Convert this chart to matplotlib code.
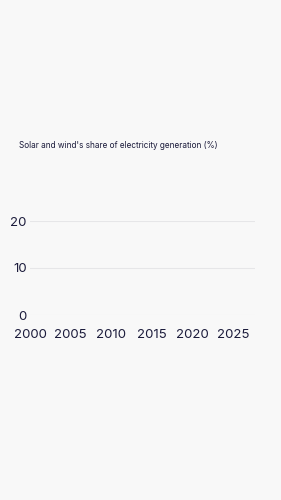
import matplotlib.pyplot as plt

# chart has axes only, no series drawn
years = [2000, 2005, 2010, 2015, 2020, 2025]
share_ticks = [0, 10, 20]
title = "Solar and wind's share of electricity generation (%)"

bg = "#f8f8f8"
ink = "#1c1c3c"

plt.rcParams['font.family'] = ['Inter', 'DejaVu Sans']

fig = plt.figure(figsize=(2.81, 5), dpi=100, facecolor=bg)
ax = fig.add_axes([30 / 281, 0.37, 225 / 281, 0.188], facecolor=bg)

ax.set_xlim(2000, 2027.7)
ax.set_ylim(0, 20)
ax.set_xticks(years)
ax.set_yticks(share_ticks)
ax.grid(axis='y', color='#e6e6e8', linewidth=0.8)
ax.set_axisbelow(True)
for s in ax.spines.values():
    s.set_visible(False)
ax.tick_params(length=0, labelsize=9.5, colors=ink)
ax.tick_params(axis='y', pad=2.5)
ax.tick_params(axis='x', pad=10)

fig.text(19 / 281, 1 - 145 / 500, title, fontsize=5.9, color=ink, va='center', ha='left')

fig.savefig("out.png", dpi=100, facecolor=bg)
